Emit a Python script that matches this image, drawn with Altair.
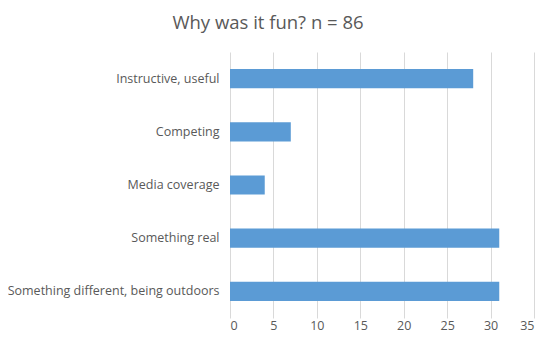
import altair as alt
import pandas as pd

categories = ["Instructive, useful", "Competing", "Media coverage", "Something real", "Something different, being outdoors"]
values = [28, 7, 4, 31, 31]

df = pd.DataFrame({"reason": categories, "count": values})

FONT = "Open Sans"
chart = alt.Chart(df).mark_bar(color="#5B9BD5").encode(
    x=alt.X("count:Q", scale=alt.Scale(domain=[0, 35], nice=False),
            axis=alt.Axis(values=[0, 5, 10, 15, 20, 25, 30, 35], title=None, domain=False, ticks=False,
                          grid=True, gridColor="#D9D9D9", gridWidth=1, labelPadding=1,
                          labelFont=FONT, labelFontSize=12.5, labelColor="#595959")),
    y=alt.Y("reason:N", sort=categories,
            scale=alt.Scale(paddingInner=0.64, paddingOuter=0.32),
            axis=alt.Axis(title=None, domain=False, ticks=False, grid=False, labelPadding=11,
                          labelFont=FONT, labelFontSize=12.5, labelColor="#595959", labelLimit=300)),
).properties(
    width=304, height=266,
    title=alt.TitleParams("Why was it fun? n = 86", font=FONT, fontSize=18.5, fontWeight="normal",
                          color="#595959", anchor="middle", dx=-114, offset=20),
    autosize=alt.AutoSizeParams(type="none"),
    padding={"left": 222, "top": 44, "right": 7, "bottom": 17},
).configure_view(stroke=None)

chart.save("out.html", embed_options={"renderer": "svg", "actions": False})
